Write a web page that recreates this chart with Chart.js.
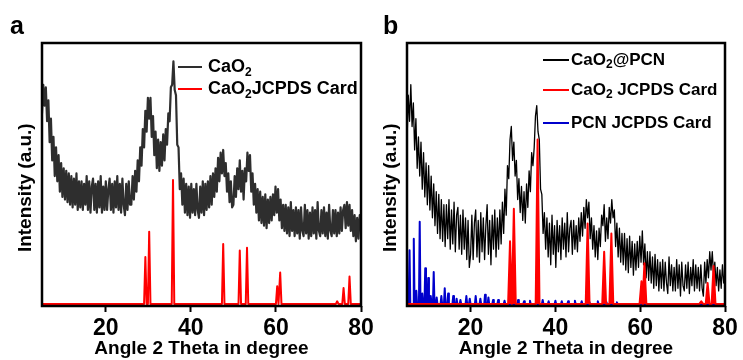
<!DOCTYPE html>
<html>
<head>
<meta charset="utf-8">
<script src="https://cdn.jsdelivr.net/npm/chart.js@4.4.1/dist/chart.umd.min.js"></script>
<style>
  body { margin: 0; background: #fff; }
  #wrap { position: relative; width: 743px; height: 360px; overflow: hidden; }
  canvas { position: absolute; top: 0; }
  #cA { left: 0; width: 385px; height: 360px; }
  #cB { left: 365px; width: 378px; height: 360px; }
  .tag { position: absolute; top: 13px; font: bold 25px/25px "Liberation Sans", Arial, sans-serif; color: #000; }
</style>
</head>
<body>
<div id="wrap">
  <canvas id="cA" width="385" height="360"></canvas>
  <canvas id="cB" width="378" height="360"></canvas>
  <div class="tag" style="left:10px">a</div>
  <div class="tag" style="left:383px">b</div>
</div>
<script>
const FONT = '"Liberation Sans", Arial, sans-serif';

const xTickValues = [20, 40, 60, 80];

// measured traces, one value every 0.3 degree from 5 to 80
const angleStart = 5;
const angleStep = 0.3;

const caO2 = [
  73, 84, 76, 83, 70, 78, 62, 71, 55, 64,
  49, 60, 47, 57, 43, 54, 41, 52, 40, 51,
  39, 50, 38, 49, 37, 48, 38, 50, 36, 47,
  37, 47, 36, 46, 38, 49, 36, 47, 35, 45,
  48, 36, 46, 35, 47, 37, 49, 35, 45, 36,
  47, 36, 44, 48, 36, 46, 35, 47, 37, 49,
  36, 46, 35, 48, 38, 34, 46, 36, 47, 38,
  38, 49, 40, 51, 43, 55, 47, 60, 53, 67,
  60, 74, 66, 79, 71, 79, 64, 72, 57, 66,
  52, 63, 51, 62, 53, 65, 55, 67, 61, 73,
  70, 83, 84, 93, 82, 80, 61, 60, 44, 50,
  38, 48, 35, 46, 34, 45, 33, 46, 35, 44,
  34, 46, 36, 33, 45, 35, 47, 34, 46, 36,
  47, 37, 49, 38, 50, 41, 52, 43, 56, 47,
  58, 50, 59, 49, 54, 43, 50, 39, 47, 37,
  38, 49, 41, 52, 44, 55, 43, 51, 40, 52,
  47, 58, 51, 57, 43, 50, 38, 46, 35, 44,
  32, 43, 31, 41, 30, 42, 29, 40, 31, 41,
  32, 42, 34, 45, 35, 44, 32, 40, 29, 38,
  28, 38, 27, 37, 26, 39, 28, 36, 26, 37,
  27, 36, 25, 37, 28, 26, 38, 27, 36, 25,
  35, 26, 37, 27, 36, 25, 39, 28, 26, 36,
  27, 37, 26, 35, 25, 38, 28, 26, 36, 27,
  36, 26, 35, 27, 37, 28, 36, 38, 29, 39,
  30, 38, 28, 36, 26, 34, 24, 33, 25, 34,
  28
];

const caO2Pcn = [
  62, 80, 70, 84, 68, 77, 59, 71, 52, 64,
  49, 62, 44, 58, 41, 54, 38, 53, 36, 49,
  33, 46, 30, 43, 27, 42, 25, 40, 24, 38,
  22, 38, 25, 40, 21, 36, 23, 39, 20, 34,
  37, 21, 34, 19, 36, 21, 33, 17, 32, 14,
  19, 34, 17, 31, 36, 18, 32, 16, 35, 20,
  33, 17, 30, 38, 19, 32, 15, 34, 21, 36,
  18, 33, 21, 36, 23, 39, 27, 44, 34, 53,
  48, 63, 68, 55, 62, 49, 55, 40, 48, 35,
  45, 32, 43, 31, 46, 37, 51, 43, 58, 53,
  60, 72, 76, 66, 63, 44, 42, 27, 35, 21,
  33, 18, 31, 15, 34, 19, 30, 14, 32, 20,
  30, 17, 33, 21, 31, 18, 35, 20, 29, 32,
  19, 32, 21, 30, 20, 33, 24, 35, 26, 37,
  29, 40, 33, 39, 25, 33, 21, 30, 18, 28,
  17, 29, 22, 34, 30, 38, 24, 33, 25, 37,
  31, 40, 33, 36, 22, 31, 18, 29, 16, 27,
  15, 27, 13, 25, 12, 26, 14, 24, 11, 23,
  13, 24, 14, 26, 16, 28, 15, 23, 10, 20,
  9, 20, 8, 18, 6, 19, 7, 17, 5, 16,
  6, 17, 5, 16, 8, 4, 18, 7, 15, 5,
  14, 5, 17, 6, 15, 3, 16, 7, 5, 15,
  6, 16, 4, 14, 7, 17, 5, 15, 6, 14,
  5, 15, 6, 3, 16, 8, 17, 10, 20, 13,
  20, 11, 16, 7, 14, 5, 13, 6, 15, 8,
  12
];

// JCPDS card reflections
const cardAngles = [29.3, 30.2, 35.8, 47.6, 51.5, 53.2, 60.3, 61.0, 74.4, 75.9, 77.3];
const cardHeightsA = [18, 27.7, 47.5, 23, 20.5, 21.5, 6.8, 12, 1, 6.1, 10.5];
const cardHeightsB = [24, 36.5, 63, 30.8, 20, 27, 8.7, 15.6, 1, 8, 14.5];

const pcnAngles = [5.2, 5.6, 6.6, 7.2, 8.0, 8.6, 9.3, 10.0, 10.6, 11.3, 12.0, 13.1, 13.9, 14.7,
  15.9, 16.7, 17.6, 19.0, 19.8, 21.2, 22.3, 23.4, 24.2, 25.3, 26.5, 28.0, 29.6, 31.2,
  32.6, 34.0, 35.5, 37.0, 38.4, 40.0, 41.5, 43.0, 44.6, 46.2, 48.0, 50.0, 52.0, 54.5];
const pcnHeights = [4, 20.6, 25, 5, 31.5, 4, 13.7, 9.9, 3, 12.2, 2.5, 3, 6, 4,
  3, 2, 1.5, 3, 2, 3, 2, 3.5, 2.5, 1.5, 1.5, 1.2, 2, 1.5,
  1, 1.2, 1, 1.5, 1, 1.2, 1, 1, 1.2, 1, 0.8, 1, 0.8, 0.6];

function trace(values) {
  return values.map((v, i) => ({ x: +(angleStart + i * angleStep).toFixed(1), y: v }));
}

function sticks(angles, heights, halfWidth) {
  const pts = [{ x: 5, y: 0 }];
  angles.forEach((a, i) => {
    pts.push({ x: a - halfWidth, y: 0 }, { x: a, y: heights[i] }, { x: a + halfWidth, y: 0 });
  });
  pts.push({ x: 80, y: 0 });
  return pts;
}

// text with the "₂" drawn as a real lowered subscript
function drawLabel(ctx, text, x, y, size) {
  const parts = text.split('₂');
  parts.forEach((p, i) => {
    ctx.font = `bold ${size}px ${FONT}`;
    ctx.fillText(p, x, y);
    x += ctx.measureText(p).width;
    if (i < parts.length - 1) {
      ctx.font = `bold ${Math.round(size * 0.68)}px ${FONT}`;
      ctx.fillText('2', x, y + size * 0.3);
      x += ctx.measureText('2').width;
    }
  });
}

const panelDecor = {
  id: 'panelDecor',
  afterDatasetsDraw(chart, args, opts) {
    const { ctx, chartArea: a } = chart;
    ctx.save();
    ctx.lineWidth = 2.5;
    ctx.strokeStyle = '#000';
    ctx.strokeRect(a.left, a.top, a.right - a.left, a.bottom - a.top);

    ctx.textBaseline = 'middle';
    ctx.fillStyle = '#000';
    chart.data.datasets.forEach((ds, i) => {
      const y = opts.rows[i];
      ctx.strokeStyle = ds.borderColor;
      ctx.lineWidth = 2;
      ctx.beginPath();
      ctx.moveTo(opts.x, y);
      ctx.lineTo(opts.x + opts.len, y);
      ctx.stroke();
      drawLabel(ctx, ds.label, opts.x + opts.len + opts.gap, y, opts.size);
    });
    ctx.restore();
  }
};

function makePanel(id, datasets, decor) {
  return new Chart(document.getElementById(id), {
    type: 'line',
    data: { datasets },
    plugins: [panelDecor],
    options: {
      responsive: false,
      animation: false,
      layout: { padding: { left: 10, top: 43, right: decor.padRight, bottom: 0 } },
      elements: {
        point: { radius: 0 },
        line: { tension: 0, borderJoinStyle: 'round' }
      },
      plugins: {
        legend: { display: false },
        tooltip: { enabled: false },
        panelDecor: decor
      },
      scales: {
        x: {
          type: 'linear',
          min: 5,
          max: 80,
          afterBuildTicks: s => { s.ticks = xTickValues.map(v => ({ value: v })); },
          afterFit: s => { s.height = 54; },
          ticks: { color: '#000', padding: 3, maxRotation: 0, font: { family: FONT, size: 23, weight: 'bold' } },
          grid: { display: true, drawOnChartArea: false, drawTicks: true, tickLength: 6, tickWidth: 2, tickColor: '#000' },
          border: { display: false },
          title: {
            display: true,
            text: 'Angle 2 Theta in degree',
            color: '#000',
            padding: { top: 0, bottom: 0 },
            font: { family: FONT, size: 19, weight: 'bold' }
          }
        },
        y: {
          min: -0.8,
          max: 100,
          afterFit: s => { s.width = 32; },
          ticks: { display: false },
          grid: { display: false },
          border: { display: false },
          title: {
            display: true,
            text: 'Intensity (a.u.)     ',
            color: '#000',
            padding: { top: 4, bottom: 0 },
            font: { family: FONT, size: 19, weight: 'bold' }
          }
        }
      }
    }
  });
}

makePanel('cA', [
  { label: 'CaO₂', data: trace(caO2), borderColor: '#2e2e2e', borderWidth: 2.2, order: 2 },
  { label: 'CaO₂JCPDS Card', data: sticks(cardAngles, cardHeightsA, 0.3), borderColor: '#ff0000', borderWidth: 2, order: 1 }
], { x: 178, rows: [67, 89], len: 24, gap: 6, size: 18, padRight: 24 });

makePanel('cB', [
  { label: 'CaO₂@PCN', data: trace(caO2Pcn), borderColor: '#000000', borderWidth: 1.3, order: 3 },
  { label: 'CaO₂ JCPDS Card', data: sticks(cardAngles, cardHeightsB, 0.45), borderColor: '#ff0000', backgroundColor: '#ff0000', fill: 'origin', borderWidth: 2, order: 1 },
  { label: 'PCN JCPDS Card', data: sticks(pcnAngles, pcnHeights, 0.18), borderColor: '#0000cc', borderWidth: 2, order: 2 }
], { x: 178, rows: [60, 90, 123], len: 26, gap: 2, size: 17, padRight: 18 });
</script>
</body>
</html>
